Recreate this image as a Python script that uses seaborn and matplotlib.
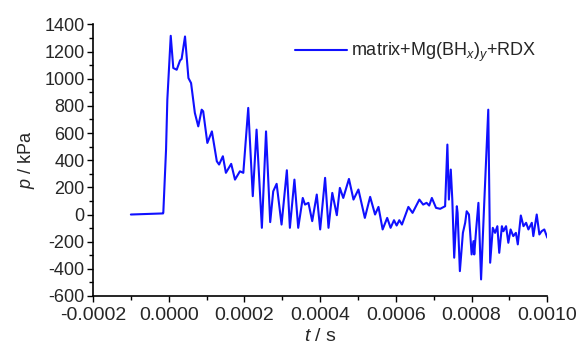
import pandas as pd
import matplotlib
matplotlib.use('Agg')
import matplotlib.pyplot as plt
import matplotlib.ticker as mticker
import seaborn as sns

# time in units of 1e-4 s, pressure in kPa
t_e4 = [-1.00, -0.15, -0.143, -0.071, -0.037, 0.053, 0.12, 0.21, 0.30, 0.34, 0.43, 0.52, 0.59, 0.69, 0.78,
        0.87, 0.91, 1.02, 1.14, 1.27, 1.33, 1.43, 1.51, 1.65, 1.75, 1.88, 1.97, 2.10, 2.22, 2.32,
        2.46, 2.57, 2.68, 2.76, 2.85, 2.98, 3.12, 3.20, 3.32, 3.42, 3.54, 3.60, 3.69, 3.79, 3.91,
        4.00, 4.13, 4.22, 4.32, 4.44, 4.52, 4.61, 4.76, 4.88, 5.01, 5.18, 5.32, 5.45, 5.54, 5.65,
        5.77, 5.86, 5.95, 6.02, 6.09, 6.16, 6.33, 6.44, 6.62, 6.72, 6.81, 6.88, 6.95, 7.06, 7.17,
        7.30, 7.36, 7.40, 7.45, 7.49, 7.54, 7.61, 7.63, 7.69, 7.77, 7.83, 7.87, 7.93, 8.00, 8.05,
        8.07, 8.12, 8.18, 8.25, 8.33, 8.44, 8.49, 8.56, 8.62, 8.68, 8.73, 8.80, 8.84, 8.91, 8.97,
        9.03, 9.10, 9.17, 9.22, 9.30, 9.37, 9.44, 9.50, 9.59, 9.63, 9.72, 9.79, 9.85, 9.92, 10.00]
pressure = [0, 8, 15, 478, 846, 1316, 1079, 1066, 1135, 1145, 1311, 1005, 968, 748, 649,
            772, 760, 527, 612, 392, 368, 429, 307, 373, 257, 318, 307, 785, 135, 625,
            -98, 612, -56, 171, 226, -74, 326, -98, 257, -98, 122, 73, 86, -49, 147,
            -110, 270, -98, 159, -5, 196, 122, 262, 110, 184, -25, 130, 0, 56, -110,
            -25, -98, -42, -81, -42, -74, 56, 12, 110, 73, 86, 66, 122, 49, 42,
            61, 515, 110, 331, 110, -318, 61, 12, -417, -135, -61, 24, 0, -294, -196,
            -294, -110, 86, -478, 61, 772, -355, -98, -135, -86, -282, -86, -123, -86, -208,
            -110, -159, -135, -220, -7, -86, -61, -110, -61, -159, 0, -147, -123, -110, -171]

df = pd.DataFrame({'t': [v * 1e-4 for v in t_e4], 'p': pressure})

sns.set_style('ticks')
plt.rcParams['font.family'] = ['Liberation Sans', 'DejaVu Sans']
plt.rcParams['mathtext.fontset'] = 'custom'
plt.rcParams['mathtext.rm'] = 'Liberation Sans'
plt.rcParams['mathtext.it'] = 'Liberation Sans:italic'
plt.rcParams['axes.unicode_minus'] = False

fig = plt.figure(figsize=(5.85, 3.47), dpi=100)
ax = fig.add_axes([0.159, 0.147, 0.7766, 0.7827])
sns.lineplot(data=df, x='t', y='p', color='#1010ff', linewidth=1.5,
             label=r'matrix+Mg(BH$_x$)$_y$+RDX', ax=ax, sort=False)
ax.lines[0].set_solid_joinstyle('round')

ax.set_xlim(-0.0002, 0.0010)
ax.set_ylim(-600, 1400)
ax.xaxis.set_major_locator(mticker.MultipleLocator(0.0002))
ax.xaxis.set_minor_locator(mticker.MultipleLocator(0.0001))
ax.xaxis.set_major_formatter(mticker.FormatStrFormatter('%.4f'))
ax.yaxis.set_major_locator(mticker.MultipleLocator(200))
ax.yaxis.set_minor_locator(mticker.MultipleLocator(100))
ax.tick_params(axis='x', which='both', direction='out', labelsize=14, pad=3.5)
ax.tick_params(axis='y', which='both', direction='out', labelsize=13, pad=1.5)
ax.tick_params(which='major', length=4.5, width=1, color='black')
ax.tick_params(which='minor', length=3, width=1, color='black')
for side in ['top', 'right']:
    ax.spines[side].set_visible(False)
for side in ['left', 'bottom']:
    ax.spines[side].set_linewidth(1.2)
    ax.spines[side].set_color('black')

ax.set_xlabel(r'$t$ / s', fontsize=14, labelpad=3)
ax.set_ylabel(r'$p$ / kPa', fontsize=13, labelpad=5)
ax.legend(loc='upper right', bbox_to_anchor=(1.0, 0.98), frameon=False, fontsize=13,
          handlelength=2.9, handletextpad=0.2, borderaxespad=0.2)

fig.savefig('out.png', dpi=100)
